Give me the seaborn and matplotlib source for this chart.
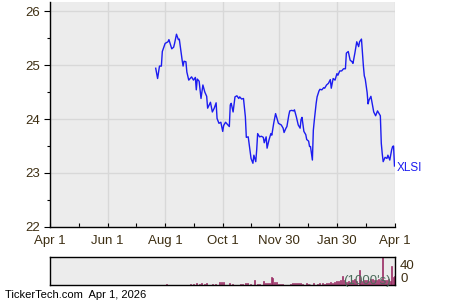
import matplotlib
matplotlib.use("Agg")
import matplotlib.pyplot as plt
import matplotlib.transforms as mtransforms
import numpy as np
import pandas as pd
import seaborn as sns

# ---- data (days counted from 2025-04-01) ----
start_date = "2025-04-01"
price_days = [112,114,116,118,119,122,125,126,129,131,
              132,134,136,137,140,141,142,144,145,147,
              148,150,152,154,155,156,158,160,162,164,
              166,167,170,172,174,176,177,179,181,183,
              184,186,188,190,191,192,194,196,198,200,
              201,203,205,207,208,210,213,215,216,218,
              219,220,222,224,226,227,229,230,232,234,
              235,237,239,240,242,243,245,247,248,250,
              251,253,254,256,258,259,261,263,265,266,
              267,269,271,272,274,275,276,278,279,280,
              282,283,285,286,288,290,291,293,295,297,
              298,300,302,304,305,307,309,311,313,314,
              316,318,320,321,323,325,327,328,330,332,
              333,334,336,337,338,340,342,343,345,347,
              349,350,351,352,353,355,357,358,360,362,
              363,364,365]
prices = [24.94,24.75,24.98,24.98,25.25,25.40,25.43,25.47,25.30,25.33,
          25.40,25.57,25.47,25.48,25.09,24.98,25.07,25.06,24.87,24.72,
          24.74,24.78,24.72,24.77,24.54,24.74,24.70,24.38,24.63,24.50,
          24.42,24.20,24.31,24.13,24.20,24.30,24.01,23.92,23.94,23.77,
          23.88,23.94,23.90,23.86,24.26,24.29,24.13,24.41,24.43,24.38,
          24.41,24.37,24.38,24.04,23.66,23.67,23.27,23.18,23.33,23.21,
          23.43,23.73,23.67,23.68,23.66,23.56,23.67,23.46,23.61,23.73,
          23.70,23.92,24.10,24.04,23.92,23.91,23.89,23.83,23.75,23.83,
          23.86,24.07,24.15,24.16,24.15,24.17,24.04,23.89,23.83,23.99,
          24.03,23.77,23.71,23.62,23.59,23.49,23.49,23.24,23.79,23.97,
          24.29,24.41,24.52,24.55,24.54,24.58,24.57,24.63,24.66,24.73,
          24.57,24.75,24.72,24.84,24.81,24.89,24.89,24.93,24.93,25.22,
          25.25,25.09,25.06,25.03,25.22,25.43,25.34,25.43,25.48,24.99,
          24.80,24.74,24.49,24.28,24.35,24.42,24.23,24.13,24.06,24.15,
          24.09,24.06,23.55,23.36,23.21,23.29,23.27,23.33,23.24,23.43,
          23.49,23.50,23.13]

vol_days = [123,148,152,155,158,160,163,165,172,175,179,181,183,190,193,
            201,203,207,209,212,216,219,221,226,228,230,232,234,235,237,
            239,242,244,246,254,256,259,261,263,265,267,271,273,275,279,
            283,285,288,290,292,295,297,299,301,303,305,307,309,312,314,
            316,318,320,322,324,327,328,331,333,335,337,339,341,343,345,
            348,350,352,354,356,358,360,361,363,364]
vol_k = [1,1,2,3,2,3,2,3,2,2,5,6,5,4,1,
         2.5,2,4,3,1.5,9,2,2,7.6,4,4,4,16,14,5,
         5,2,2,2,2,3,4,3,3,4,2,3,2,1,3,
         2,3,3,2,4,3,5,4,5,8,8,9,17,9,5,
         7,6,9,11,7,28,10,8,9,10,8,11,12,10,9,
         12,10,60,10,9,12,8,36,15,18]

x_tick_dates = ["2025-04-01", "2025-06-01", "2025-08-01", "2025-10-01",
                "2025-11-30", "2026-01-30", "2026-04-01"]
x_tick_labels = ["Apr 1", "Jun 1", "Aug 1", "Oct 1", "Nov 30", "Jan 30", "Apr 1"]
y_ticks = [22, 23, 24, 25, 26]
vol_ticks = [0, 40]
vol_tick_labels = ["0", "40"]
ticker = "XLSI"
vol_unit = "(1000's)"
footer = "TickerTech.com  Apr 1, 2026"

# ---- style ----
plt.rcParams["font.family"] = ["Liberation Sans", "DejaVu Sans"]
face = "#ececec"
grid_c = "#d8d8d8"
label_c = "#3d2e12"
line_c = "#1c1cf0"
bar_c = "#9c2f66"

t0 = pd.Timestamp(start_date)
xt = [(pd.Timestamp(d) - t0).days for d in x_tick_dates]
xminor = [(a + b) / 2 for a, b in zip(xt[:-1], xt[1:])]

fig = plt.figure(figsize=(4.5, 3), dpi=100)
ax = fig.add_axes([50 / 450, 1 - 227 / 300, 344.5 / 450, 225 / 300])
axv = fig.add_axes([50 / 450, 1 - 285 / 300, 344.5 / 450, 28.3 / 300])

# price line
df = pd.DataFrame({"day": price_days, "price": prices})
sns.lineplot(data=df, x="day", y="price", ax=ax, color=line_c, lw=1.0,
             sort=False, estimator=None)
ax.set_facecolor(face)
ax.set_xlim(xt[0], xt[-1])
ax.set_ylim(22, 26 + 9 / 54)
ax.set_xticks(xt)
ax.set_xticklabels(x_tick_labels)
ax.set_xticks(xminor, minor=True)
ax.set_yticks(y_ticks)
ax.set_yticklabels([str(v) for v in y_ticks])
ax.set_yticks([22.5, 23.5, 24.5, 25.5], minor=True)
ax.grid(True, which="major", color=grid_c, lw=1.0)
ax.set_axisbelow(True)
ax.set_xlabel("")
ax.set_ylabel("")
for s in ["top", "right"]:
    ax.spines[s].set_visible(False)
for s in ["left", "bottom"]:
    ax.spines[s].set_color("black")
    ax.spines[s].set_linewidth(1.0)
ax.tick_params(axis="x", which="both", direction="in", length=3, width=0.8,
               colors="black", labelcolor=label_c, labelsize=9.5, pad=6)
ax.tick_params(axis="y", which="major", direction="out", length=4, width=0.8,
               colors="black", labelcolor=label_c, labelsize=9.5, pad=3)
ax.tick_params(axis="y", which="minor", direction="out", length=2.5, width=0.8,
               colors="black")

trans = mtransforms.blended_transform_factory(ax.transAxes, ax.transData)
ax.text(1.006, prices[-1] - 0.03, ticker, transform=trans, color=line_c,
        fontsize=8.5, va="center", ha="left", clip_on=False)

# volume bars
dv = pd.DataFrame({"day": vol_days, "vol": vol_k})
sns.histplot(data=dv, x="day", weights="vol", binwidth=1, binrange=(0, 366),
             ax=axv, color=bar_c, alpha=1, edgecolor=bar_c, linewidth=0.5)
axv.set_facecolor(face)
axv.set_xlim(xt[0], xt[-1])
axv.set_ylim(0, 54)
axv.set_xticks([])
axv.yaxis.tick_right()
axv.set_yticks(vol_ticks)
axv.set_yticklabels(vol_tick_labels)
axv.tick_params(axis="y", length=0, labelcolor=label_c, labelsize=9.5, pad=4)
for lbl in axv.get_yticklabels():
    if lbl.get_text() == "0":
        lbl.set_va("bottom")
axv.set_xlabel("")
axv.set_ylabel("")
for s in axv.spines.values():
    s.set_color("black")
    s.set_linewidth(1.0)
axv.text(0.99, 0.14, vol_unit, transform=axv.transAxes, color="#4b6b5a",
         fontsize=9.5, ha="right", va="center", zorder=5)

fig.text(5 / 450, 1 - 295 / 300, footer, fontsize=8, color="black",
         ha="left", va="center")

fig.savefig("out.png", dpi=100)
